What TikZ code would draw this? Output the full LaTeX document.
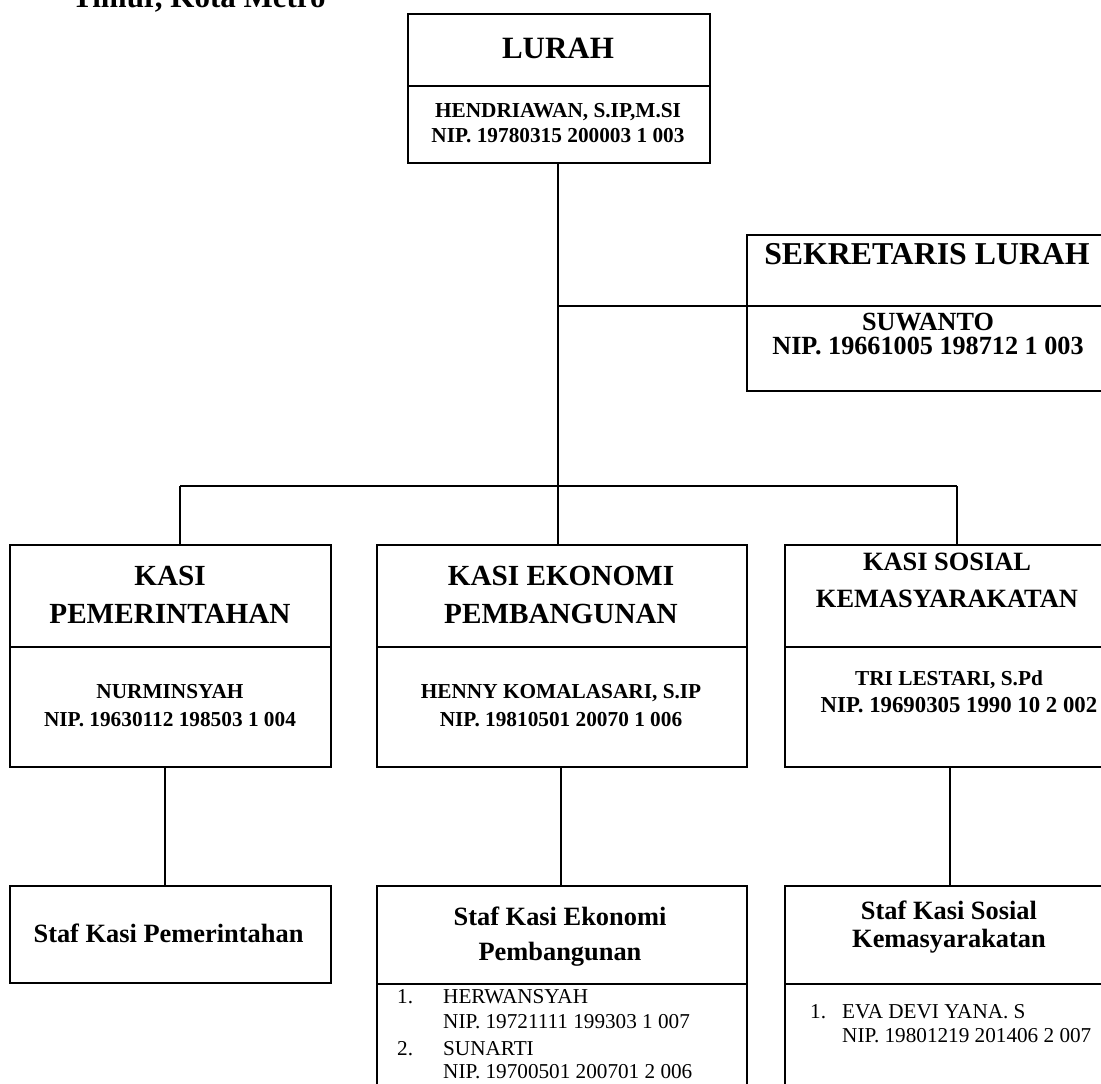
\documentclass[tikz,border=0pt]{standalone}
\usepackage{fontspec}
\setmainfont{Liberation Serif}
\begin{document}
\begin{tikzpicture}[x=1pt,y=-1pt,
  frame/.style={draw, line width=1.8pt, inner sep=0pt, outer sep=0pt, anchor=north west},
  link/.style={line width=1.8pt},
  lbl/.style={anchor=base, inner sep=0pt},
  lblw/.style={anchor=base west, inner sep=0pt},
  headA/.style={font=\fontsize{31}{31}\selectfont\bfseries},
  headS/.style={font=\fontsize{31.8}{32}\selectfont\bfseries},
  headK/.style={font=\fontsize{29.2}{30}\selectfont\bfseries},
  headKs/.style={font=\fontsize{26.4}{27}\selectfont\bfseries},
  headF/.style={font=\fontsize{26.4}{27}\selectfont\bfseries},
  nameB/.style={font=\fontsize{21.3}{22}\selectfont\bfseries},
  nameS/.style={font=\fontsize{26.2}{27}\selectfont\bfseries},
  listR/.style={font=\fontsize{21.2}{22}\selectfont}
]
\useasboundingbox (0,0) rectangle (1101,1084);
\clip (0,0) rectangle (1101,1084);

% title fragment
\node[lblw, headA] (title) at (72,8) {Timur, Kota Metro};

% LURAH
\node[frame, minimum width=302pt, minimum height=72pt] (lurahT) at (408,14) {};
\node[frame, minimum width=302pt, minimum height=77pt] (lurahB) at (408,86) {};
\node[lbl, headA] (tLurah) at (558,58) {LURAH};
\node[lbl, nameB] (tLurah1) at (558,117) {HENDRIAWAN, S.IP,M.SI};
\node[lbl, nameB] (tLurah2) at (558,142) {NIP. 19780315 200003 1 003};

% SEKRETARIS
\node[frame, minimum width=362pt, minimum height=71pt] (sekT) at (747,235) {};
\node[frame, minimum width=362pt, minimum height=85pt] (sekB) at (747,306) {};
\node[lbl, headS] (tSek) at (927,264) {SEKRETARIS LURAH};
\node[lbl, nameS] (tSek1) at (928,330) {SUWANTO};
\node[lbl, nameS] (tSek2) at (928,354) {NIP. 19661005 198712 1 003};

% KASI boxes
\node[frame, minimum width=321pt, minimum height=102pt] (kpT) at (10,545) {};
\node[frame, minimum width=321pt, minimum height=120pt] (kpB) at (10,647) {};
\node[frame, minimum width=370pt, minimum height=102pt] (keT) at (377,545) {};
\node[frame, minimum width=370pt, minimum height=120pt] (keB) at (377,647) {};
\node[frame, minimum width=326pt, minimum height=102pt] (ksT) at (785,545) {};
\node[frame, minimum width=326pt, minimum height=120pt] (ksB) at (785,647) {};

\node[lbl, headK] (tKp1) at (170,585) {KASI};
\node[lbl, headK] (tKp2) at (170,623) {PEMERINTAHAN};
\node[lbl, nameB] (tKp3) at (170,698) {NURMINSYAH};
\node[lbl, nameB] (tKp4) at (170,726) {NIP. 19630112 198503 1 004};

\node[lbl, headK] (tKe1) at (561,585) {KASI EKONOMI};
\node[lbl, headK] (tKe2) at (561,623) {PEMBANGUNAN};
\node[lbl, nameB] (tKe3) at (561,698) {HENNY KOMALASARI, S.IP};
\node[lbl, nameB] (tKe4) at (561,726) {NIP. 19810501 20070 1 006};

\node[lbl, headKs] (tKs1) at (947,570) {KASI SOSIAL};
\node[lbl, headKs] (tKs2) at (947,607) {KEMASYARAKATAN};
\node[lbl, nameB] (tKs3) at (949,685) {TRI LESTARI, S.Pd};
\node[lbl, font=\fontsize{22.8}{23}\selectfont\bfseries] (tKs4) at (959,712) {NIP. 19690305 1990 10 2 002};

% STAF boxes
\node[frame, minimum width=321pt, minimum height=97pt] (spT) at (10,886) {};
\node[frame, minimum width=370pt, minimum height=98pt] (seT) at (377,886) {};
\node[frame, minimum width=370pt, minimum height=120pt] (seB) at (377,984) {};
\node[frame, minimum width=326pt, minimum height=98pt] (ssT) at (785,886) {};
\node[frame, minimum width=326pt, minimum height=120pt] (ssB) at (785,984) {};

\node[lbl, headF] (tSp) at (168.5,942) {Staf Kasi Pemerintahan};
\node[lbl, headF] (tSe1) at (560,925) {Staf Kasi Ekonomi};
\node[lbl, headF] (tSe2) at (560,960) {Pembangunan};
\node[lbl, headF] (tSs1) at (949,919) {Staf Kasi Sosial};
\node[lbl, headF] (tSs2) at (949,947) {Kemasyarakatan};

\node[lblw, listR] (eN1) at (397,1003) {1.};
\node[lblw, listR] (eA1) at (443,1003) {HERWANSYAH};
\node[lblw, listR] (eB1) at (443,1028) {NIP. 19721111 199303 1 007};
\node[lblw, listR] (eN2) at (397,1055) {2.};
\node[lblw, listR] (eA2) at (443,1055) {SUNARTI};
\node[lblw, listR] (eB2) at (443,1078) {NIP. 19700501 200701 2 006};

\node[lblw, listR] (sN1) at (810,1018) {1.};
\node[lblw, listR] (sA1) at (842,1018) {EVA DEVI YANA. S};
\node[lblw, listR] (sB1) at (842,1042) {NIP. 19801219 201406 2 007};

% connectors
\coordinate (jm) at (558,486);
\coordinate (jl) at (180,486);
\coordinate (jr) at (957,486);
\coordinate (bl) at (165,0);
\coordinate (bm) at (561,0);
\coordinate (br) at (950,0);

\draw[link] (lurahB.south -| jm) -- (jm);
\draw[link] (jm |- sekB.north west) -- (sekB.north west);
\draw[link] (jl) -- (jr);
\draw[link] (jl) -- (jl |- kpT.north);
\draw[link] (jm) -- (jm |- keT.north);
\draw[link] (jr) -- (jr |- ksT.north);
\draw[link] (bl |- kpB.south) -- (bl |- spT.north);
\draw[link] (bm |- keB.south) -- (bm |- seT.north);
\draw[link] (br |- ksB.south) -- (br |- ssT.north);
\end{tikzpicture}
\end{document}
